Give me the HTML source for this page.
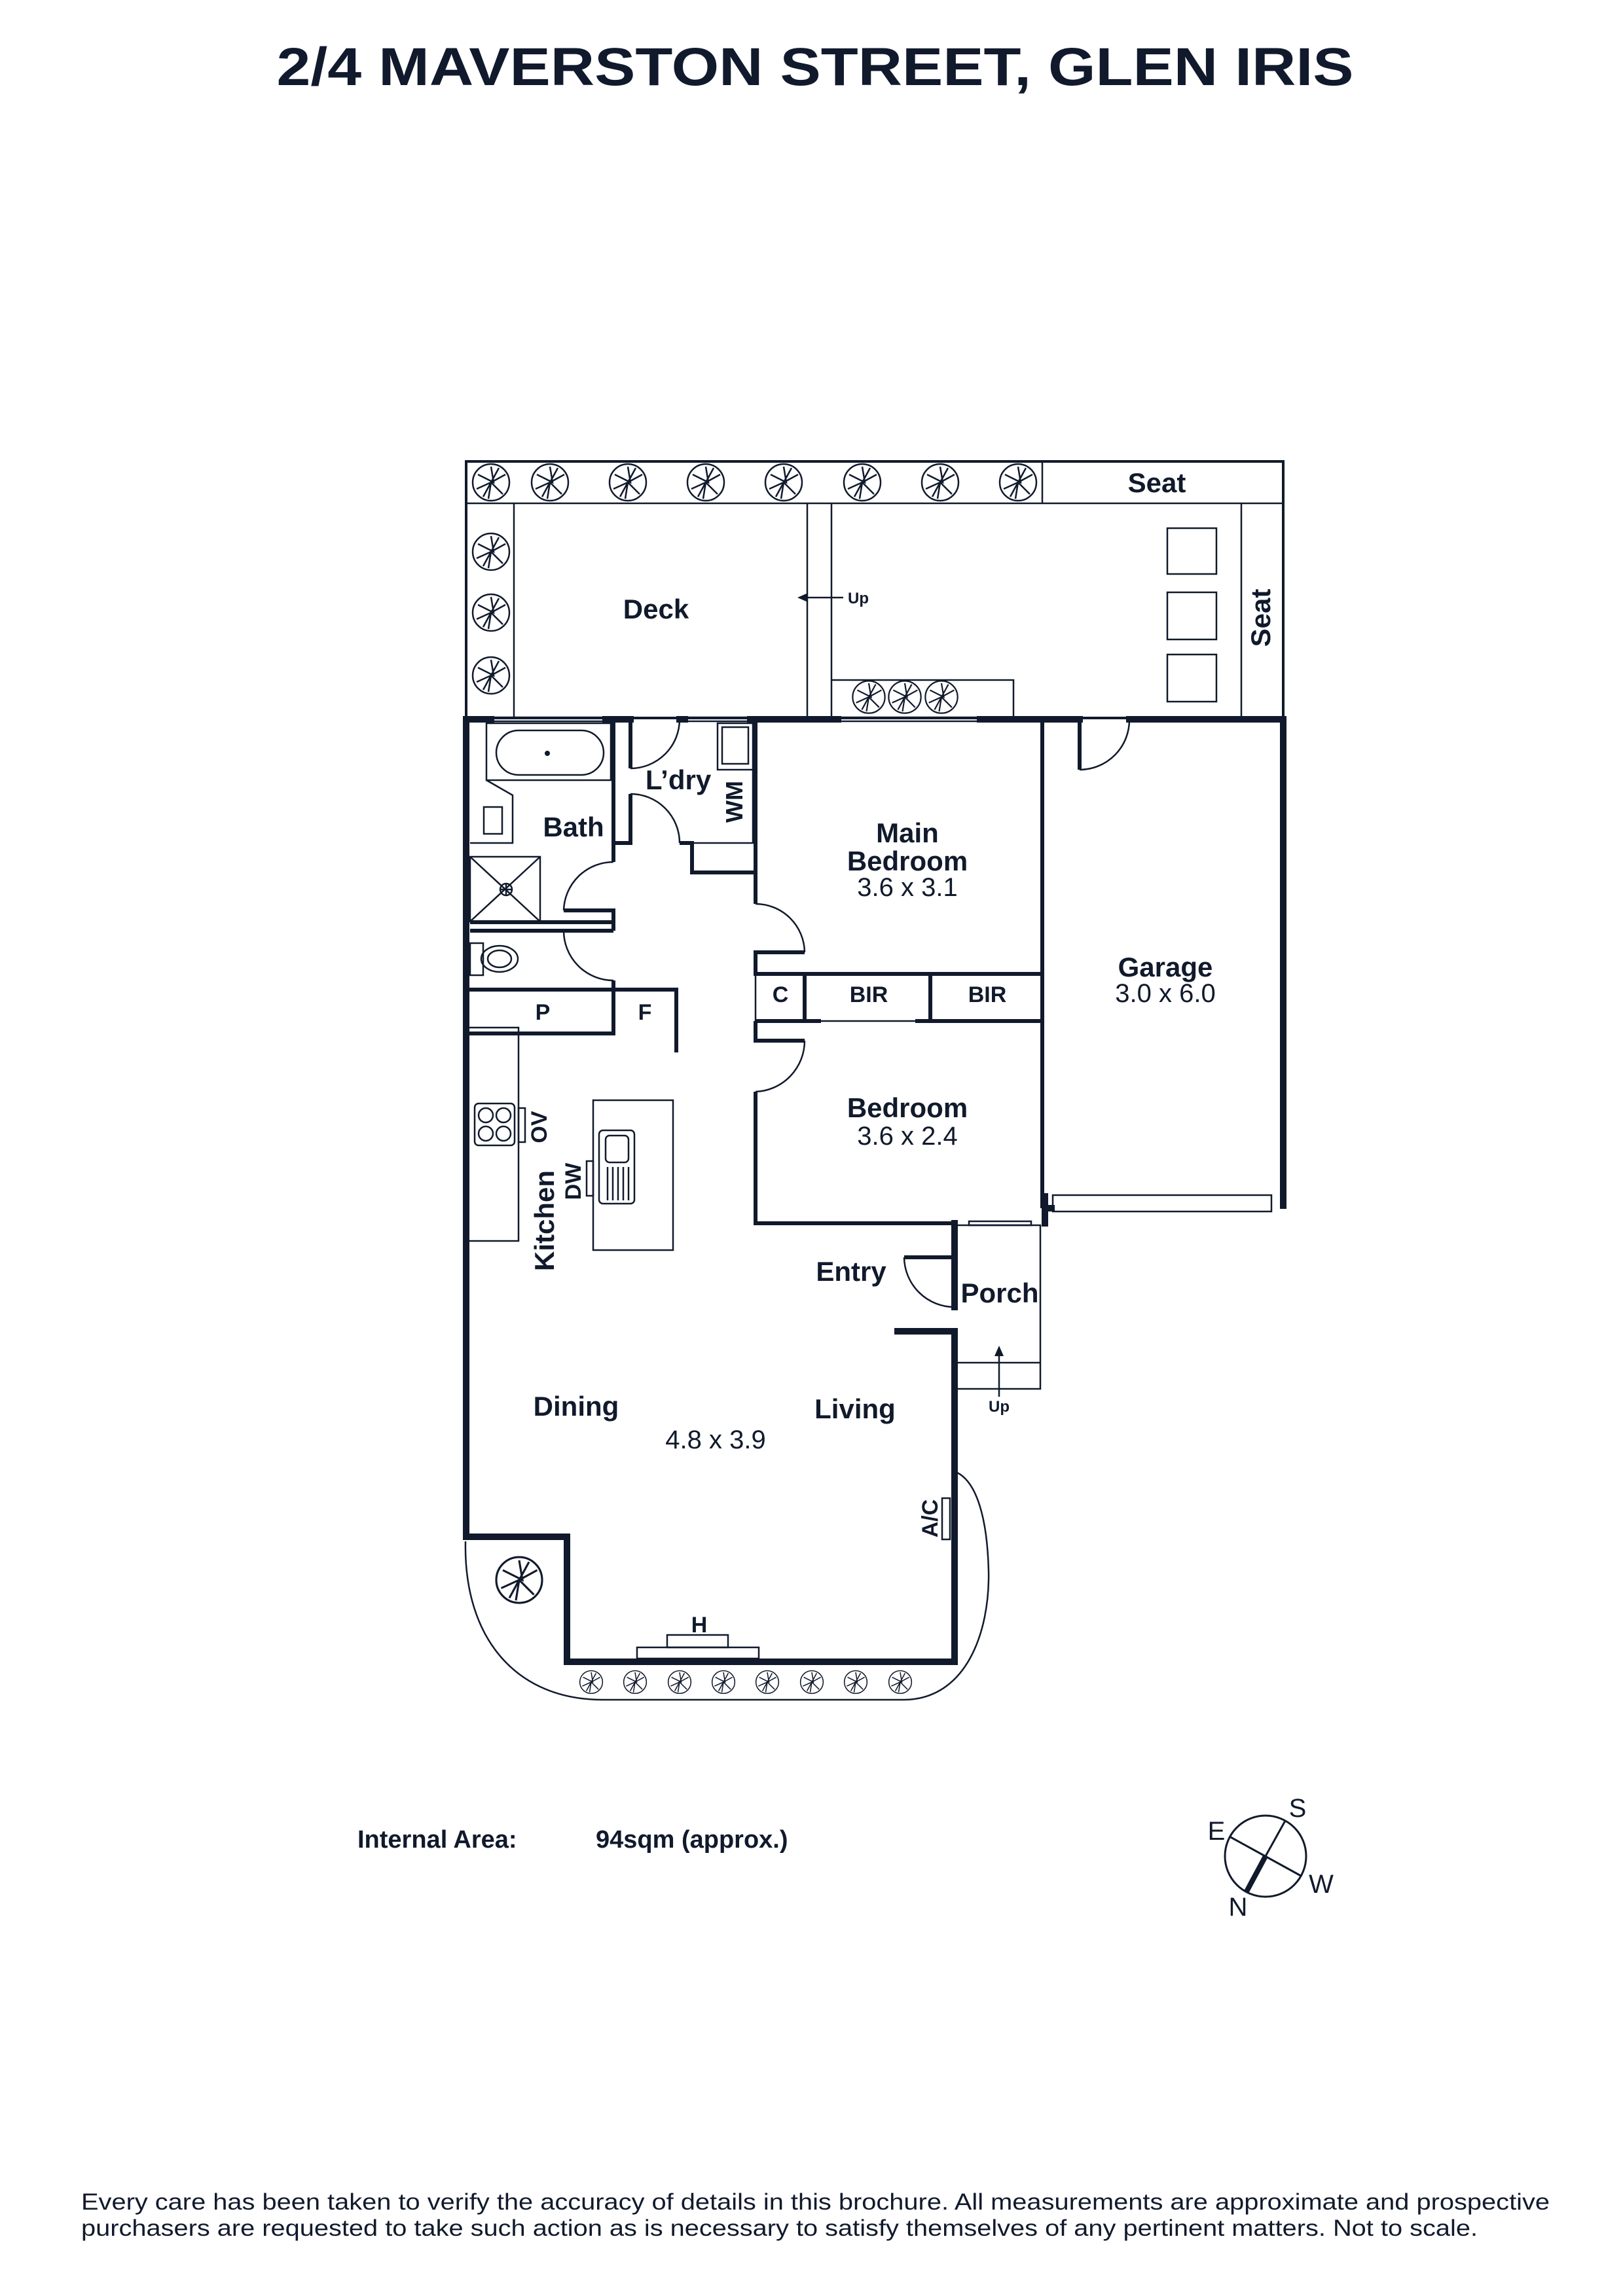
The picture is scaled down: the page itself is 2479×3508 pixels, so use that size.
<!DOCTYPE html>
<html><head><meta charset="utf-8"><style>
html,body{margin:0;padding:0;background:#fff}
svg{display:block}
text{font-family:"Liberation Sans",sans-serif;fill:#111a2c}
.b{font-weight:bold}
</style></head><body>
<svg width="2479" height="3508" viewBox="0 0 2479 3508" xmlns="http://www.w3.org/2000/svg">
<defs>
<g id="tr"><circle r="28" fill="none" stroke="#111a2c" stroke-width="2.5"/>
<path d="M0 -24L4 0L-20 -12M0 0L22 -12M0 0L18 18M0 0L-4 25M0 0L-22 10M0 0L12 -22M0 0L-12 22" stroke="#111a2c" stroke-width="2.5" fill="none"/></g>
</defs>
<text x="1245" y="130" font-size="82" class="b" text-anchor="middle" textLength="1645" lengthAdjust="spacingAndGlyphs">2/4 MAVERSTON STREET, GLEN IRIS</text>

<g fill="none" stroke="#111a2c" stroke-width="2.5">
<rect x="712" y="705" width="1248" height="392" stroke-width="4"/>
<polyline points="785,1097 785,769 1960,769"/>
<line x1="712" y1="769" x2="785" y2="769"/>
<line x1="1592" y1="705" x2="1592" y2="769"/>
<line x1="1233" y1="769" x2="1233" y2="1097"/>
<line x1="1270" y1="769" x2="1270" y2="1097"/>
<line x1="1896" y1="769" x2="1896" y2="1097"/>
<rect x="1783" y="807" width="75" height="70"/>
<rect x="1783" y="905" width="75" height="72"/>
<rect x="1783" y="1000" width="75" height="72"/>
<polyline points="1270,1039 1548,1039 1548,1097"/>
<line x1="1288" y1="913" x2="1233" y2="913"/>
</g>
<path d="M1218 913L1234 906L1234 920Z" fill="#111a2c"/>
<g>
<use href="#tr" x="750" y="737"/><use href="#tr" x="840" y="737"/><use href="#tr" x="959" y="737"/><use href="#tr" x="1078" y="737"/><use href="#tr" x="1197" y="737"/><use href="#tr" x="1317" y="737"/><use href="#tr" x="1436" y="737"/><use href="#tr" x="1555" y="737"/>
<use href="#tr" x="750" y="843"/><use href="#tr" x="750" y="936"/><use href="#tr" x="750" y="1032"/>
<g transform="translate(1327 1065) scale(.88)"><use href="#tr"/></g>
<g transform="translate(1382 1065) scale(.88)"><use href="#tr"/></g>
<g transform="translate(1438 1065) scale(.88)"><use href="#tr"/></g>
</g>

<g fill="none" stroke="#111a2c" stroke-width="10" stroke-linecap="square">
<line x1="712" y1="1099" x2="712" y2="2348"/>
<polyline points="712,2348 866,2348 866,2539 1458,2539 1458,2034"/>
<line x1="1458" y1="1997" x2="1458" y2="1869"/>
<line x1="1371" y1="2034" x2="1458" y2="2034"/>
<line x1="712" y1="1099" x2="750" y2="1099"/>
<line x1="925" y1="1099" x2="963" y2="1099"/>
<line x1="1038" y1="1099" x2="1046" y2="1099"/>
<line x1="1146" y1="1099" x2="1280" y2="1099"/>
<line x1="1497" y1="1099" x2="1649" y2="1099"/>
<line x1="1725" y1="1099" x2="1960" y2="1099"/>
<line x1="1960" y1="1099" x2="1960" y2="1842"/>
<line x1="1596" y1="1828" x2="1596" y2="1869"/>
<line x1="1596" y1="1846" x2="1606" y2="1846"/>
</g>
<g fill="none" stroke="#111a2c" stroke-width="6">
<polyline points="937,1099 937,1317"/>
<polyline points="963,1099 963,1174"/>
<polyline points="963,1213 963,1288 937,1288"/>
<polyline points="1038,1288 1057,1288 1057,1333 1154,1333"/>
<polyline points="861,1391 937,1391 937,1409 718,1409"/>
<polyline points="718,1422 937,1422 861,1422"/>
<line x1="937" y1="1409" x2="937" y2="1422"/>
<polyline points="937,1498 937,1512 712,1512"/>
<polyline points="937,1512 1033,1512 1033,1608"/>
<polyline points="712,1579 937,1579 937,1512"/>
<polyline points="1154,1099 1154,1381"/>
<polyline points="1229,1455 1154,1455 1154,1488 1592,1488"/>
<line x1="1154" y1="1560" x2="1254" y2="1560"/>
<line x1="1398" y1="1560" x2="1592" y2="1560"/>
<line x1="1229" y1="1488" x2="1229" y2="1560"/>
<line x1="1421" y1="1488" x2="1421" y2="1560"/>
<polyline points="1154,1560 1154,1590 1229,1590"/>
<polyline points="1154,1668 1154,1869 1458,1869"/>
<line x1="1592" y1="1099" x2="1592" y2="1846"/>
<polyline points="1649,1099 1649,1176"/>
<polyline points="1381,1921 1458,1921"/>
</g>
<g fill="none" stroke="#111a2c" stroke-width="2.5">
<line x1="1254" y1="1560" x2="1398" y2="1560"/>
<line x1="1154" y1="1488" x2="1154" y2="1560"/>
<line x1="1057" y1="1288" x2="1154" y2="1288"/>
<rect x="750" y="1096" width="175" height="6"/>
<rect x="1046" y="1096" width="100" height="6"/>
<rect x="1280" y="1096" width="217" height="6"/>
<rect x="1608" y="1826" width="334" height="25"/>
<rect x="1480" y="1866" width="95" height="6"/>
<rect x="709" y="1918" width="6" height="98"/>
<rect x="733" y="2345" width="109" height="6"/>
<rect x="863" y="2355" width="6" height="171"/>
<rect x="1221" y="2536" width="214" height="6"/>
<rect x="743" y="1105" width="190" height="87"/>
<rect x="758" y="1116" width="164" height="68" rx="34"/>
<polyline points="743,1192 783,1215 783,1288 718,1288"/>
<rect x="739" y="1233" width="28" height="41"/>
<rect x="1096" y="1105" width="54" height="71"/>
<rect x="1103" y="1111" width="40" height="56"/>
<line x1="1150" y1="1176" x2="1150" y2="1288"/>
<rect x="718" y="1309" width="107" height="99"/>
<path d="M718 1309L825 1408M825 1309L718 1408"/>
<circle cx="773" cy="1359" r="9"/><path d="M764 1359h18M773 1350v18"/>
<rect x="718" y="1441" width="20" height="49"/>
<ellipse cx="763" cy="1465" rx="28" ry="20"/><ellipse cx="763" cy="1465" rx="18" ry="13"/>
<path d="M963 1174A75 75 0 0 0 1038 1099"/>
<path d="M963 1213A75 75 0 0 1 1038 1288"/>
<path d="M937 1317A76 76 0 0 0 861 1391"/>
<path d="M861 1422A76 76 0 0 0 937 1498"/>
<path d="M1154 1381A75 75 0 0 1 1229 1455"/>
<path d="M1229 1590A78 78 0 0 1 1154 1668"/>
<path d="M1649 1176A76 76 0 0 0 1725 1099"/>
<path d="M1381 1921A77 77 0 0 0 1458 1997"/>
<polyline points="712,1570 792,1570 792,1896 712,1896"/>
<rect x="906" y="1681" width="122" height="229"/>
<rect x="915" y="1727" width="54" height="112" rx="6"/>
<rect x="925" y="1735" width="35" height="41" rx="6"/>
<path d="M928 1783v51M936 1783v51M944 1783v51M952 1783v51M960 1783v51"/>
<rect x="896" y="1774" width="10" height="53"/>
<rect x="725" y="1686" width="61" height="64" rx="6"/>
<circle cx="742" cy="1704" r="11"/><circle cx="769" cy="1704" r="11"/><circle cx="742" cy="1732" r="11"/><circle cx="769" cy="1732" r="11"/>
<rect x="792" y="1693" width="10" height="52"/>
<polyline points="1461,1872 1589,1872 1589,2122 1461,2122"/>
<line x1="1461" y1="2082" x2="1589" y2="2082"/>
<line x1="1526" y1="2134" x2="1526" y2="2068"/>
<rect x="1439" y="2289" width="12" height="63"/>
<rect x="973" y="2517" width="186" height="17"/>
<rect x="1019" y="2498" width="93" height="19"/>
<path d="M711 2355C708 2505 790 2597 920 2597H1380C1475 2597 1512 2495 1510 2400C1508 2320 1492 2265 1462 2250"/>
</g>
<path d="M1526 2056L1519 2072L1533 2072Z" fill="#111a2c"/>
<circle cx="836" cy="1151" r="4" fill="#111a2c"/>
<g transform="translate(793 2414) scale(1.25)"><use href="#tr"/></g>
<g>
<g transform="translate(903 2570) scale(.62)"><use href="#tr"/></g>
<g transform="translate(970 2570) scale(.62)"><use href="#tr"/></g>
<g transform="translate(1038 2570) scale(.62)"><use href="#tr"/></g>
<g transform="translate(1105 2570) scale(.62)"><use href="#tr"/></g>
<g transform="translate(1172 2570) scale(.62)"><use href="#tr"/></g>
<g transform="translate(1240 2570) scale(.62)"><use href="#tr"/></g>
<g transform="translate(1307 2570) scale(.62)"><use href="#tr"/></g>
<g transform="translate(1375 2570) scale(.62)"><use href="#tr"/></g>
</g>

<g font-size="42" class="b" text-anchor="middle">
<text x="1767" y="752">Seat</text>
<text x="1002" y="945">Deck</text>
<text x="1925" y="944" transform="rotate(-90 1925 944)" dy="15">Seat</text>
<text x="1036" y="1206">L’dry</text>
<text x="1121" y="1225" transform="rotate(-90 1121 1225)" dy="13" font-size="36">WM</text>
<text x="876" y="1278">Bath</text>
<text x="1386" y="1287">Main</text>
<text x="1386" y="1330">Bedroom</text>
<text x="1780" y="1492">Garage</text>
<text x="1192" y="1531" font-size="34">C</text>
<text x="1327" y="1531" font-size="34">BIR</text>
<text x="1508" y="1531" font-size="34">BIR</text>
<text x="829" y="1558" font-size="34">P</text>
<text x="985" y="1558" font-size="34">F</text>
<text x="1386" y="1707">Bedroom</text>
<text x="831" y="1865" transform="rotate(-90 831 1865)" dy="15">Kitchen</text>
<text x="823" y="1722" font-size="34" transform="rotate(-90 823 1722)" dy="12">OV</text>
<text x="875" y="1805" font-size="34" transform="rotate(-90 875 1805)" dy="12">DW</text>
<text x="1300" y="1957">Entry</text>
<text x="1527" y="1990">Porch</text>
<text x="880" y="2163">Dining</text>
<text x="1306" y="2167">Living</text>
<text x="1420" y="2320" font-size="34" transform="rotate(-90 1420 2320)" dy="12">A/C</text>
<text x="1068" y="2494" font-size="34">H</text>
</g>
<g font-size="40" text-anchor="middle">
<text x="1386" y="1369">3.6 x 3.1</text>
<text x="1780" y="1531">3.0 x 6.0</text>
<text x="1386" y="1749">3.6 x 2.4</text>
<text x="1093" y="2213">4.8 x 3.9</text>
</g>
<text x="1311" y="922" font-size="24" class="b" text-anchor="middle">Up</text>
<text x="1526" y="2157" font-size="24" class="b" text-anchor="middle">Up</text>

<text x="546" y="2823" font-size="38" class="b">Internal Area:</text>
<text x="910" y="2823" font-size="38" class="b">94sqm (approx.)</text>

<g fill="none" stroke="#111a2c" stroke-width="3">
<circle cx="1933" cy="2836" r="62"/>
<line x1="1963" y1="2782" x2="1933" y2="2836"/>
<line x1="1878" y1="2806" x2="1987" y2="2866"/>
<line x1="1933" y1="2836" x2="1904" y2="2890" stroke-width="8"/>
</g>
<g font-size="40" text-anchor="middle">
<text x="1982" y="2776">S</text><text x="1858" y="2811">E</text><text x="2018" y="2892">W</text><text x="1891" y="2927">N</text>
</g>

<g font-size="35">
<text x="124" y="3376" textLength="2243" lengthAdjust="spacingAndGlyphs">Every care has been taken to verify the accuracy of details in this brochure. All measurements are approximate and prospective</text>
<text x="124" y="3416" textLength="2133" lengthAdjust="spacingAndGlyphs">purchasers are requested to take such action as is necessary to satisfy themselves of any pertinent matters. Not to scale.</text>
</g>
</svg>
</body></html>
